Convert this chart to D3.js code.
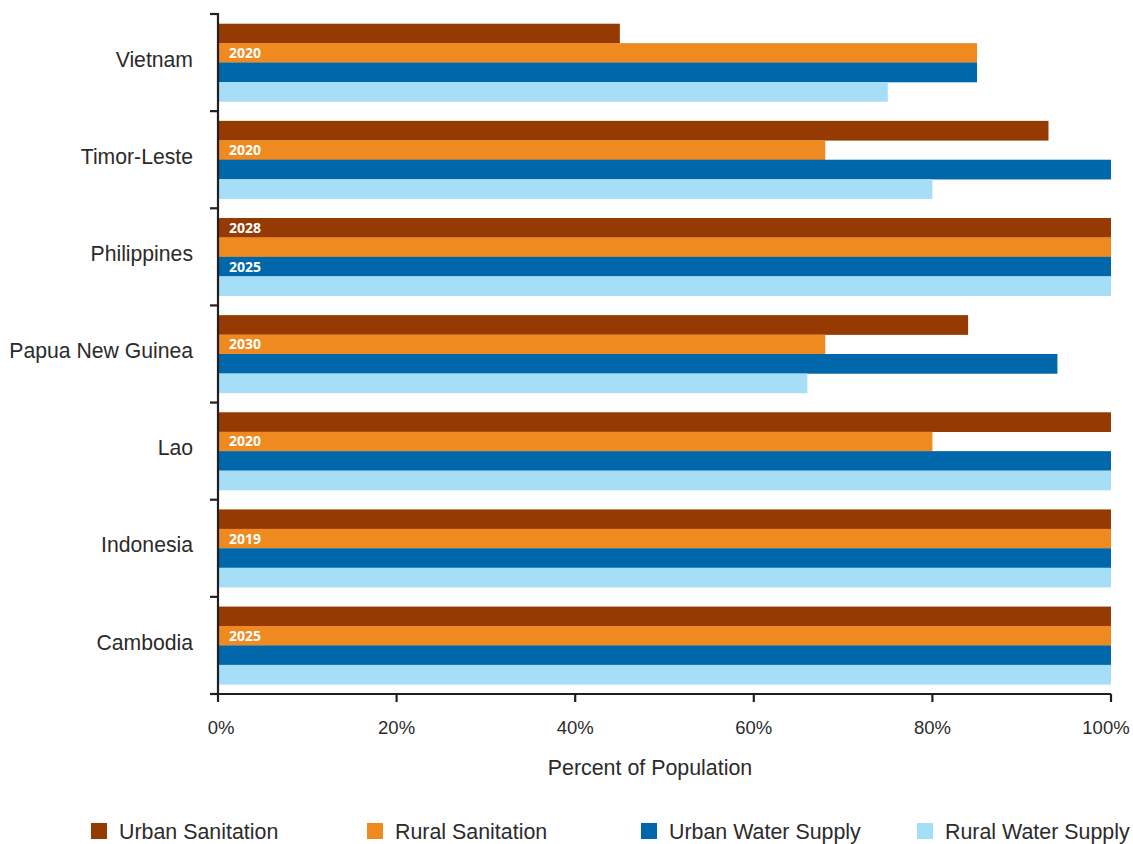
<!DOCTYPE html>
<html>
<head>
<meta charset="utf-8">
<script src="https://cdn.jsdelivr.net/npm/d3@7"></script>
<style>
  html, body { margin: 0; padding: 0; background: #fff; }
  svg { display: block; }
</style>
</head>
<body>
<svg id="chart" width="1133" height="844"></svg>
<script>
const countries = ["Vietnam", "Timor-Leste", "Philippines", "Papua New Guinea", "Lao", "Indonesia", "Cambodia"];
const seriesNames = ["Urban Sanitation", "Rural Sanitation", "Urban Water Supply", "Rural Water Supply"];
const seriesColors = ["#943a02", "#ee8a1f", "#0067aa", "#a6ddf7"];
const urbanSanitation = [45, 93, 100, 84, 100, 100, 100];
const ruralSanitation = [85, 68, 100, 68, 80, 100, 100];
const urbanWater = [85, 100, 100, 94, 100, 100, 100];
const ruralWater = [75, 80, 100, 66, 100, 100, 100];
// target-year labels: [country, series, label]
const yearLabels = [
  ["Vietnam", "Rural Sanitation", "2020"],
  ["Timor-Leste", "Rural Sanitation", "2020"],
  ["Philippines", "Urban Sanitation", "2028"],
  ["Philippines", "Urban Water Supply", "2025"],
  ["Papua New Guinea", "Rural Sanitation", "2030"],
  ["Lao", "Rural Sanitation", "2020"],
  ["Indonesia", "Rural Sanitation", "2019"],
  ["Cambodia", "Rural Sanitation", "2025"]
];
const xTicks = [0, 20, 40, 60, 80, 100];

const seriesValues = [urbanSanitation, ruralSanitation, urbanWater, ruralWater];

const svg = d3.select("#chart");
const plotLeft = 218, plotRight = 1111, plotTop = 14, plotBottom = 694;
const axisColor = "#231f20";
const textColor = "#2b2b2b";
const font = "'Liberation Sans', Arial, Helvetica, sans-serif";

const x = d3.scaleLinear().domain([0, 100]).range([plotLeft, plotRight]);
const y = d3.scaleBand().domain(countries).range([plotTop, plotBottom]).paddingInner(0.2).paddingOuter(0.1);
const ySub = d3.scaleBand().domain(seriesNames).range([0, y.bandwidth()]);
const color = d3.scaleOrdinal().domain(seriesNames).range(seriesColors);

const data = [];
countries.forEach((c, i) => {
  seriesNames.forEach((s, j) => data.push({ country: c, series: s, value: seriesValues[j][i] }));
});

// bars
svg.append("g").selectAll("rect").data(data).join("rect")
  .attr("x", x(0))
  .attr("y", d => y(d.country) + ySub(d.series))
  .attr("width", d => x(d.value) - x(0))
  .attr("height", ySub.bandwidth() + 0.3)
  .attr("fill", d => color(d.series));

// year labels
svg.append("g").selectAll("text").data(yearLabels).join("text")
  .attr("x", x(0) + 11)
  .attr("y", d => y(d[0]) + ySub(d[1]) + ySub.bandwidth() / 2)
  .attr("dy", "0.36em")
  .attr("fill", "#fff")
  .attr("font-family", "'Open Sans', sans-serif")
  .attr("font-weight", "bold")
  .attr("font-size", 14)
  .text(d => d[2]);

// y axis: line with ticks at band boundaries
const step = y.step();
const boundaries = countries.map(c => y(c) - y.paddingInner() * step / 2).concat([plotBottom]);
const yAxisG = svg.append("g");
yAxisG.append("line")
  .attr("x1", plotLeft).attr("x2", plotLeft).attr("y1", plotTop - 1).attr("y2", plotBottom + 1)
  .attr("stroke", axisColor).attr("stroke-width", 2.2);
yAxisG.selectAll("line.tick").data(boundaries).join("line").attr("class", "tick")
  .attr("x1", plotLeft - 8).attr("x2", plotLeft)
  .attr("y1", d => d).attr("y2", d => d)
  .attr("stroke", axisColor).attr("stroke-width", 2.2);
yAxisG.selectAll("text").data(countries).join("text")
  .attr("x", 193)
  .attr("y", d => y(d) + y.bandwidth() / 2 - 3.5)
  .attr("dy", "0.36em")
  .attr("text-anchor", "end")
  .attr("font-family", font)
  .attr("font-size", 21.2)
  .attr("fill", textColor)
  .text(d => d);

// x axis
const xAxisG = svg.append("g");
xAxisG.append("line")
  .attr("x1", plotLeft - 7).attr("x2", plotRight).attr("y1", plotBottom).attr("y2", plotBottom)
  .attr("stroke", axisColor).attr("stroke-width", 2.2);
xAxisG.selectAll("line.tick").data(xTicks).join("line").attr("class", "tick")
  .attr("x1", d => x(d)).attr("x2", d => x(d))
  .attr("y1", plotBottom).attr("y2", plotBottom + 8)
  .attr("stroke", axisColor).attr("stroke-width", 2.2);
xAxisG.selectAll("text").data(xTicks).join("text")
  .attr("x", d => d === 0 ? x(d) + 3 : (d === 100 ? x(d) - 5 : x(d)))
  .attr("y", 734)
  .attr("text-anchor", "middle")
  .attr("font-family", font)
  .attr("font-size", 18.5)
  .attr("fill", textColor)
  .text(d => d + "%");

svg.append("text")
  .attr("x", 650).attr("y", 775)
  .attr("text-anchor", "middle")
  .attr("font-family", font)
  .attr("font-size", 21.4)
  .attr("fill", textColor)
  .text("Percent of Population");

// legend
const legendX = [91, 367, 641, 917];
const legend = svg.append("g").selectAll("g").data(seriesNames).join("g")
  .attr("transform", (d, i) => `translate(${legendX[i]},823)`);
legend.append("rect").attr("width", 16).attr("height", 16).attr("fill", d => color(d));
legend.append("text")
  .attr("x", 28).attr("y", 15.5)
  .attr("font-family", font)
  .attr("font-size", 21.4)
  .attr("fill", textColor)
  .text(d => d);
</script>
</body>
</html>
